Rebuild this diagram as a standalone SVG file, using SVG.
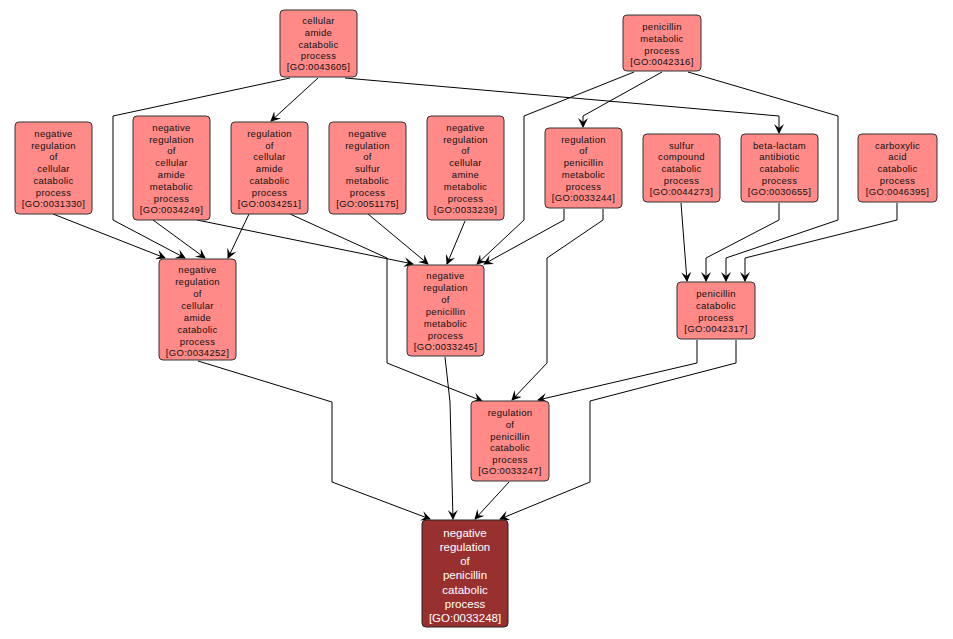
<svg xmlns="http://www.w3.org/2000/svg" width="953" height="639" viewBox="0 0 953 639">
<style>
.n rect{fill:#ff8a87;stroke:#333;stroke-width:1}
.n text{font-family:"Liberation Sans",Arial,sans-serif;font-size:9.5px;fill:#111;text-anchor:middle;letter-spacing:0.3px}
.p rect{fill:#993030;stroke:#222}
.p text{font-family:"Liberation Sans",Arial,sans-serif;font-size:11.5px;fill:#fff;text-anchor:middle}
.e polyline{fill:none;stroke:#000;stroke-width:1;marker-end:url(#a)}
</style>
<defs><marker id="a" markerWidth="10" markerHeight="10" refX="9" refY="5" orient="auto" markerUnits="userSpaceOnUse"><path d="M0,0L10,5L0,10L4,5z" fill="#000"/></marker></defs>
<rect width="953" height="639" fill="#fff"/>
<g class="e">
<polyline points="290,78 113,116 113,220 185,258"/>
<polyline points="53,214 165,258"/>
<polyline points="153,220 205,258"/>
<polyline points="249,214 228,258"/>
<polyline points="318,78 271,121"/>
<polyline points="345,78 779,116 779,133"/>
<polyline points="197,220 413,264"/>
<polyline points="290,214 387,258 387,363 482,401"/>
<polyline points="368,214 428,264"/>
<polyline points="465,221 447,264"/>
<polyline points="634,72 524,116 524,220 477,264"/>
<polyline points="564,209 564,220 484,264"/>
<polyline points="662,72 583,116 583,127"/>
<polyline points="688,72 838,116 838,220 726,258 726,281"/>
<polyline points="681,203 687,281"/>
<polyline points="779,203 779,220 706,258 706,281"/>
<polyline points="897,203 897,220 745,258 745,281"/>
<polyline points="603,209 603,220 547,258 547,363 512,400"/>
<polyline points="697,340 697,363 538,400"/>
<polyline points="736,340 736,363 590,401 590,482 500,519"/>
<polyline points="198,361 332,402 332,482 430,519"/>
<polyline points="445,357 450,402 453,519"/>
<polyline points="509,482 475,519"/>
</g>
<g id="n43605" class="n"><rect x="280" y="10" width="77" height="67" rx="4"/><text x="318.5" y="24"><tspan x="318.5">cellular</tspan><tspan x="318.5" dy="12">amide</tspan><tspan x="318.5" dy="12">catabolic</tspan><tspan x="318.5" dy="11">process</tspan><tspan x="318.5" dy="11">[GO:0043605]</tspan></text></g>
<g id="n42316" class="n"><rect x="623" y="15" width="78" height="56" rx="4"/><text x="662" y="30"><tspan x="662">penicillin</tspan><tspan x="662" dy="12">metabolic</tspan><tspan x="662" dy="12">process</tspan><tspan x="662" dy="11">[GO:0042316]</tspan></text></g>
<g id="n31330" class="n"><rect x="15" y="122" width="77" height="92" rx="4"/><text x="53.5" y="137"><tspan x="53.5">negative</tspan><tspan x="53.5" dy="12">regulation</tspan><tspan x="53.5" dy="11">of</tspan><tspan x="53.5" dy="12">cellular</tspan><tspan x="53.5" dy="12">catabolic</tspan><tspan x="53.5" dy="12">process</tspan><tspan x="53.5" dy="11">[GO:0031330]</tspan></text></g>
<g id="n34249" class="n"><rect x="133" y="116" width="77" height="104" rx="4"/><text x="171.5" y="131"><tspan x="171.5">negative</tspan><tspan x="171.5" dy="12">regulation</tspan><tspan x="171.5" dy="11">of</tspan><tspan x="171.5" dy="12">cellular</tspan><tspan x="171.5" dy="12">amide</tspan><tspan x="171.5" dy="12">metabolic</tspan><tspan x="171.5" dy="12">process</tspan><tspan x="171.5" dy="11">[GO:0034249]</tspan></text></g>
<g id="n34251" class="n"><rect x="231" y="122" width="77" height="92" rx="4"/><text x="269.5" y="137"><tspan x="269.5">regulation</tspan><tspan x="269.5" dy="12">of</tspan><tspan x="269.5" dy="11">cellular</tspan><tspan x="269.5" dy="12">amide</tspan><tspan x="269.5" dy="12">catabolic</tspan><tspan x="269.5" dy="12">process</tspan><tspan x="269.5" dy="11">[GO:0034251]</tspan></text></g>
<g id="n51175" class="n"><rect x="329" y="122" width="77" height="92" rx="4"/><text x="367.5" y="137"><tspan x="367.5">negative</tspan><tspan x="367.5" dy="12">regulation</tspan><tspan x="367.5" dy="11">of</tspan><tspan x="367.5" dy="12">sulfur</tspan><tspan x="367.5" dy="12">metabolic</tspan><tspan x="367.5" dy="12">process</tspan><tspan x="367.5" dy="11">[GO:0051175]</tspan></text></g>
<g id="n33239" class="n"><rect x="427" y="116" width="77" height="104" rx="4"/><text x="465.5" y="131"><tspan x="465.5">negative</tspan><tspan x="465.5" dy="12">regulation</tspan><tspan x="465.5" dy="11">of</tspan><tspan x="465.5" dy="12">cellular</tspan><tspan x="465.5" dy="12">amine</tspan><tspan x="465.5" dy="12">metabolic</tspan><tspan x="465.5" dy="12">process</tspan><tspan x="465.5" dy="11">[GO:0033239]</tspan></text></g>
<g id="n33244" class="n"><rect x="545" y="128" width="77" height="80" rx="4"/><text x="583.5" y="143"><tspan x="583.5">regulation</tspan><tspan x="583.5" dy="11">of</tspan><tspan x="583.5" dy="12">penicillin</tspan><tspan x="583.5" dy="12">metabolic</tspan><tspan x="583.5" dy="12">process</tspan><tspan x="583.5" dy="11">[GO:0033244]</tspan></text></g>
<g id="n44273" class="n"><rect x="643" y="134" width="77" height="68" rx="4"/><text x="681.5" y="149"><tspan x="681.5">sulfur</tspan><tspan x="681.5" dy="11">compound</tspan><tspan x="681.5" dy="12">catabolic</tspan><tspan x="681.5" dy="12">process</tspan><tspan x="681.5" dy="11">[GO:0044273]</tspan></text></g>
<g id="n30655" class="n"><rect x="741" y="134" width="77" height="68" rx="4"/><text x="779.5" y="149"><tspan x="779.5">beta-lactam</tspan><tspan x="779.5" dy="11">antibiotic</tspan><tspan x="779.5" dy="12">catabolic</tspan><tspan x="779.5" dy="12">process</tspan><tspan x="779.5" dy="11">[GO:0030655]</tspan></text></g>
<g id="n46395" class="n"><rect x="858" y="134" width="79" height="68" rx="4"/><text x="897.5" y="149"><tspan x="897.5">carboxylic</tspan><tspan x="897.5" dy="11">acid</tspan><tspan x="897.5" dy="12">catabolic</tspan><tspan x="897.5" dy="12">process</tspan><tspan x="897.5" dy="11">[GO:0046395]</tspan></text></g>
<g id="n34252" class="n"><rect x="159" y="259" width="77" height="101" rx="4"/><text x="197.5" y="273"><tspan x="197.5">negative</tspan><tspan x="197.5" dy="12">regulation</tspan><tspan x="197.5" dy="12">of</tspan><tspan x="197.5" dy="12">cellular</tspan><tspan x="197.5" dy="12">amide</tspan><tspan x="197.5" dy="12">catabolic</tspan><tspan x="197.5" dy="12">process</tspan><tspan x="197.5" dy="11">[GO:0034252]</tspan></text></g>
<g id="n33245" class="n"><rect x="407" y="265" width="77" height="91" rx="4"/><text x="445.5" y="279"><tspan x="445.5">negative</tspan><tspan x="445.5" dy="12">regulation</tspan><tspan x="445.5" dy="12">of</tspan><tspan x="445.5" dy="12">penicillin</tspan><tspan x="445.5" dy="12">metabolic</tspan><tspan x="445.5" dy="12">process</tspan><tspan x="445.5" dy="11">[GO:0033245]</tspan></text></g>
<g id="n42317" class="n"><rect x="677" y="282" width="78" height="57" rx="4"/><text x="716" y="297"><tspan x="716">penicillin</tspan><tspan x="716" dy="12">catabolic</tspan><tspan x="716" dy="12">process</tspan><tspan x="716" dy="11">[GO:0042317]</tspan></text></g>
<g id="n33247" class="n"><rect x="471" y="401" width="78" height="80" rx="4"/><text x="510" y="416"><tspan x="510">regulation</tspan><tspan x="510" dy="12">of</tspan><tspan x="510" dy="12">penicillin</tspan><tspan x="510" dy="11">catabolic</tspan><tspan x="510" dy="12">process</tspan><tspan x="510" dy="11">[GO:0033247]</tspan></text></g>
<g id="n33248" class="p"><rect x="422" y="520" width="86" height="107" rx="4"/><text x="465" y="537"><tspan x="465">negative</tspan><tspan x="465" dy="14">regulation</tspan><tspan x="465" dy="14">of</tspan><tspan x="465" dy="14">penicillin</tspan><tspan x="465" dy="15">catabolic</tspan><tspan x="465" dy="14">process</tspan><tspan x="465" dy="14">[GO:0033248]</tspan></text></g>
</svg>
